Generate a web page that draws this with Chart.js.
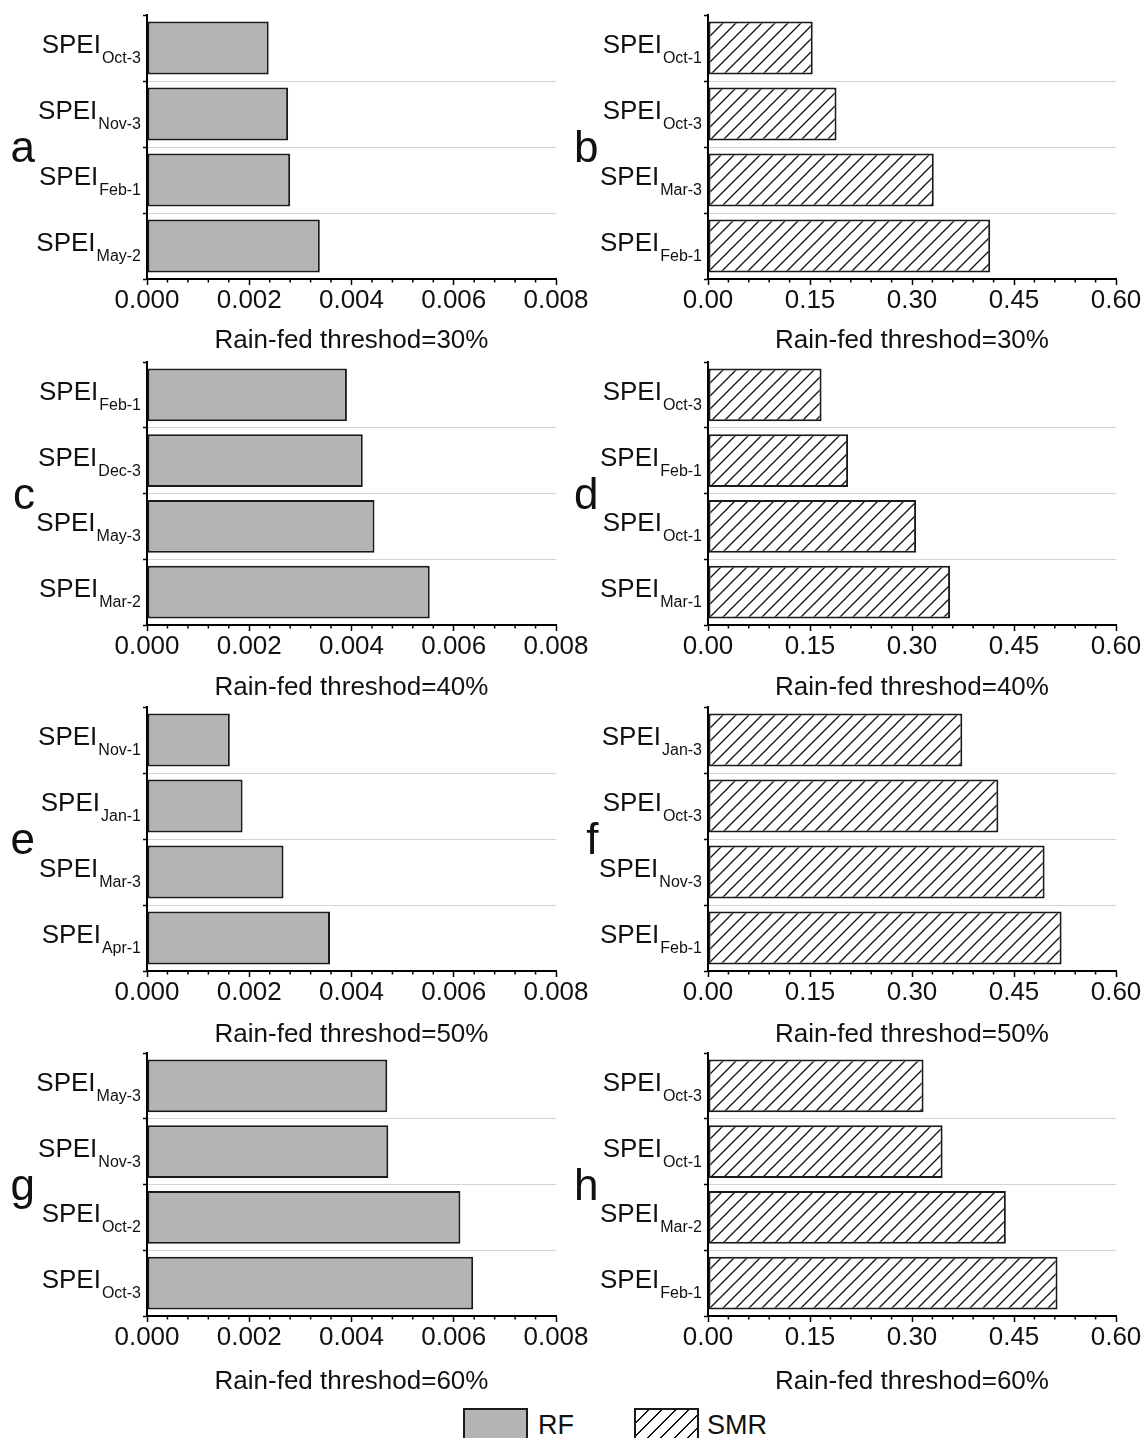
<!DOCTYPE html>
<html>
<head>
<meta charset="utf-8">
<script src="https://cdn.jsdelivr.net/npm/chart.js@4.4.0/dist/chart.umd.min.js"></script>
<style>
  html, body { margin: 0; padding: 0; background: #fff; }
  body { position: relative; width: 1145px; height: 1438px; overflow: hidden;
         font-family: "Liberation Sans", Arial, sans-serif; color: #111; }
  canvas { position: absolute; }
  .lg-box { position: absolute; width: 61px; height: 40px; border: 2px solid #1a1a1a; }
  .lg-rf { background: #b4b4b4; }
  .lg-smr { background: #fff repeating-linear-gradient(135deg, #fff 0px, #fff 8px, #111 8px, #111 9.5px); }
  .lg-txt { position: absolute; font-size: 27px; line-height: 27px; white-space: nowrap; }
</style>
</head>
<body>
<canvas id="pa"></canvas>
<canvas id="pb"></canvas>
<canvas id="pc"></canvas>
<canvas id="pd"></canvas>
<canvas id="pe"></canvas>
<canvas id="pf"></canvas>
<canvas id="pg"></canvas>
<canvas id="ph"></canvas>

<div class="lg-box lg-rf" style="left:463px; top:1408px;"></div>
<div class="lg-txt" style="left:538px; top:1412px;">RF</div>
<div class="lg-box lg-smr" style="left:634px; top:1408px;"></div>
<div class="lg-txt" style="left:707px; top:1412px;">SMR</div>

<script>
// ---- data ----
const thresholds = [30, 40, 50, 60];

const rfTicks  = [0, 0.002, 0.004, 0.006, 0.008];
const smrTicks = [0, 0.15, 0.30, 0.45, 0.60];

// RF (left column), top to bottom
const labelsA = ['Oct-3', 'Nov-3', 'Feb-1', 'May-2'];
const valuesA = [0.00238, 0.00276, 0.00280, 0.00338];
const labelsC = ['Feb-1', 'Dec-3', 'May-3', 'Mar-2'];
const valuesC = [0.00391, 0.00422, 0.00445, 0.00553];
const labelsE = ['Nov-1', 'Jan-1', 'Mar-3', 'Apr-1'];
const valuesE = [0.00162, 0.00187, 0.00267, 0.00358];
const labelsG = ['May-3', 'Nov-3', 'Oct-2', 'Oct-3'];
const valuesG = [0.00470, 0.00472, 0.00613, 0.00638];

// SMR (right column), top to bottom
const labelsB = ['Oct-1', 'Oct-3', 'Mar-3', 'Feb-1'];
const valuesB = [0.154, 0.189, 0.332, 0.415];
const labelsD = ['Oct-3', 'Feb-1', 'Oct-1', 'Mar-1'];
const valuesD = [0.167, 0.206, 0.306, 0.356];
const labelsF = ['Jan-3', 'Oct-3', 'Nov-3', 'Feb-1'];
const valuesF = [0.374, 0.427, 0.495, 0.520];
const labelsH = ['Oct-3', 'Oct-1', 'Mar-2', 'Feb-1'];
const valuesH = [0.317, 0.345, 0.438, 0.514];

// ---- layout ----
const FONT = '"Liberation Sans", Arial, sans-serif';
Chart.defaults.font.family = FONT;
Chart.defaults.color = '#111';

const rowTop    = [15, 362, 707, 1053];
const rowBottom = [279, 625, 971, 1316];
const titleGap  = [62, 63, 64, 66];
const AXIS_BOX = 90;
const TOP_PAD = 10;

const columns = {
  rf:  { left: 0,   width: 600, yWidth: 147, padRight: 44, ticks: rfTicks,  max: 0.008, digits: 3,
         minorStep: 0.0004, letterX: 35 },
  smr: { left: 572, width: 573, yWidth: 136, padRight: 29, ticks: smrTicks, max: 0.60,  digits: 2,
         minorStep: 0.03,   letterX: 26.5 }
};

function makeHatch() {
  const s = 13;
  const c = document.createElement('canvas');
  c.width = s; c.height = s;
  const g = c.getContext('2d');
  g.fillStyle = '#fff';
  g.fillRect(0, 0, s, s);
  g.strokeStyle = '#111';
  g.lineWidth = 1.3;
  g.beginPath();
  g.moveTo(-2, s + 2); g.lineTo(s + 2, -2);
  g.moveTo(-2, 2); g.lineTo(2, -2);
  g.moveTo(s - 2, s + 2); g.lineTo(s + 2, s - 2);
  g.stroke();
  return g.createPattern(c, 'repeat');
}

// minor ticks, SPEI labels with subscripts and the panel letter
const panelDecor = {
  id: 'panelDecor',
  afterDraw(chart, args, opts) {
    const { ctx, chartArea, scales: { x, y } } = chart;
    ctx.save();
    ctx.strokeStyle = '#000';
    ctx.lineWidth = 1.5;
    for (let k = 0; k <= 20; k++) {
      if (k % 5 === 0) continue;
      const px = x.getPixelForValue(opts.minorStep * k);
      ctx.beginPath();
      ctx.moveTo(px, chartArea.bottom);
      ctx.lineTo(px, chartArea.bottom + 3.5);
      ctx.stroke();
    }
    const right = chartArea.left - 6;
    ctx.fillStyle = '#111';
    ctx.textAlign = 'right';
    ctx.textBaseline = 'alphabetic';
    chart.data.labels.forEach((lab, i) => {
      const cy = y.getPixelForTick(i);
      ctx.font = '16px ' + FONT;
      const w = ctx.measureText(lab).width;
      ctx.fillText(lab, right, cy + 15);
      ctx.font = '26px ' + FONT;
      ctx.fillText('SPEI', right - w - 1, cy + 5);
    });
    ctx.font = '44px ' + FONT;
    ctx.fillText(opts.letter, opts.letterX, (chartArea.top + chartArea.bottom) / 2 + 15);
    ctx.restore();
  }
};

function buildPanel(id, letter, row, colKey, labels, values) {
  const col = columns[colKey];
  const canvas = document.getElementById(id);
  const top = rowTop[row] - TOP_PAD;
  const height = rowBottom[row] - rowTop[row] + TOP_PAD + AXIS_BOX;
  canvas.width = col.width;
  canvas.height = height;
  canvas.style.left = col.left + 'px';
  canvas.style.top = top + 'px';
  canvas.style.width = col.width + 'px';
  canvas.style.height = height + 'px';

  const fill = colKey === 'rf' ? '#b4b4b4' : makeHatch();

  return new Chart(canvas, {
    type: 'bar',
    data: {
      labels: labels,
      datasets: [{
        data: values,
        backgroundColor: fill,
        borderColor: '#1a1a1a',
        borderWidth: 2,
        borderSkipped: false,
        barPercentage: 0.8,
        categoryPercentage: 1.0
      }]
    },
    options: {
      indexAxis: 'y',
      responsive: false,
      animation: false,
      devicePixelRatio: 1,
      layout: { padding: { top: TOP_PAD, right: col.padRight, bottom: 0, left: 0 } },
      plugins: {
        legend: { display: false },
        tooltip: { enabled: false },
        panelDecor: { letter: letter, letterX: col.letterX, minorStep: col.minorStep }
      },
      scales: {
        x: {
          type: 'linear',
          min: 0,
          max: col.max,
          afterBuildTicks: (s) => { s.ticks = col.ticks.map(v => ({ value: v })); },
          afterFit: (s) => { s.height = AXIS_BOX; },
          ticks: {
            color: '#111',
            font: { size: 26, lineHeight: 1.2 },
            padding: 0,
            maxRotation: 0,
            autoSkip: false,
            callback: (v) => Number(v).toFixed(col.digits)
          },
          grid: {
            drawOnChartArea: false,
            drawTicks: true,
            tickLength: 6,
            tickWidth: 1.5,
            tickColor: '#000'
          },
          border: { display: true, color: '#000', width: 2 },
          title: {
            display: true,
            text: 'Rain-fed threshod=' + thresholds[row] + '%',
            color: '#111',
            font: { size: 26, lineHeight: 1.2 },
            padding: { top: 0, bottom: AXIS_BOX - 15.6 - titleGap[row] }
          }
        },
        y: {
          type: 'category',
          offset: true,
          afterFit: (s) => { s.width = col.yWidth; },
          ticks: { display: false },
          grid: {
            offset: true,
            drawOnChartArea: true,
            drawTicks: true,
            tickLength: 4,
            lineWidth: 1,
            tickWidth: 1.5,
            color: (c) => c.index === 0 ? 'rgba(0,0,0,0)' : '#d4d4d4',
            tickColor: '#000'
          },
          border: { display: true, color: '#000', width: 2 }
        }
      }
    },
    plugins: [panelDecor]
  });
}

buildPanel('pa', 'a', 0, 'rf',  labelsA, valuesA);
buildPanel('pb', 'b', 0, 'smr', labelsB, valuesB);
buildPanel('pc', 'c', 1, 'rf',  labelsC, valuesC);
buildPanel('pd', 'd', 1, 'smr', labelsD, valuesD);
buildPanel('pe', 'e', 2, 'rf',  labelsE, valuesE);
buildPanel('pf', 'f', 2, 'smr', labelsF, valuesF);
buildPanel('pg', 'g', 3, 'rf',  labelsG, valuesG);
buildPanel('ph', 'h', 3, 'smr', labelsH, valuesH);
</script>
</body>
</html>
